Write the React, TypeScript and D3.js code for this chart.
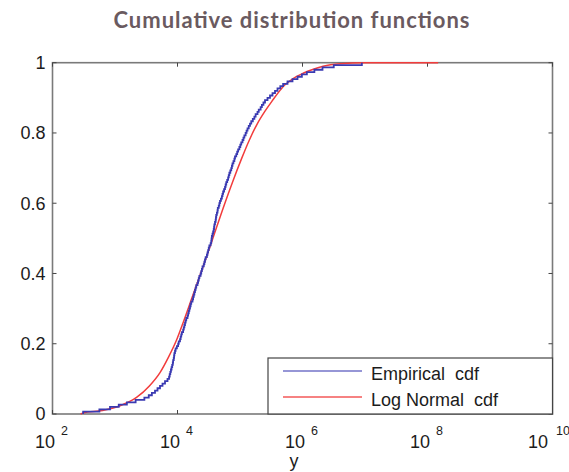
import React from "react";
import * as d3 from "d3";

// Empirical sample values (log10 of y), sorted, read from the blue staircase
const empiricalLog10: number[] = [
  2.49, 2.75, 2.92, 3.06, 3.19, 3.33, 3.47, 3.54, 3.59, 3.64,
  3.68, 3.72, 3.76, 3.8, 3.84, 3.865, 3.875, 3.885, 3.895, 3.905,
  3.915, 3.925, 3.93, 3.94, 3.945, 3.95, 3.96, 3.97, 3.99, 4.01,
  4.02, 4.04, 4.05, 4.06, 4.07, 4.09, 4.1, 4.11, 4.12, 4.13,
  4.14, 4.16, 4.17, 4.18, 4.19, 4.2, 4.21, 4.22, 4.24, 4.25,
  4.26, 4.27, 4.28, 4.29, 4.3, 4.32, 4.33, 4.34, 4.35, 4.37,
  4.38, 4.39, 4.4, 4.42, 4.43, 4.44, 4.45, 4.47, 4.48, 4.49,
  4.5, 4.51, 4.53, 4.54, 4.545, 4.55, 4.56, 4.57, 4.58, 4.585,
  4.59, 4.6, 4.61, 4.615, 4.62, 4.63, 4.64, 4.645, 4.66, 4.67,
  4.68, 4.695, 4.71, 4.72, 4.73, 4.745, 4.76, 4.77, 4.78, 4.795,
  4.81, 4.82, 4.83, 4.845, 4.86, 4.87, 4.88, 4.895, 4.91, 4.92,
  4.94, 4.955, 4.97, 4.99, 5.005, 5.02, 5.04, 5.055, 5.07, 5.09,
  5.105, 5.12, 5.14, 5.16, 5.18, 5.205, 5.23, 5.25, 5.28, 5.3,
  5.33, 5.35, 5.375, 5.4, 5.44, 5.48, 5.52, 5.56, 5.6, 5.645,
  5.69, 5.76, 5.84, 5.92, 5.99, 6.07, 6.19, 6.32, 6.5, 6.95,
];

// Fitted log-normal cdf: log10(y) and F(y)
const lognormLog10: number[] = [2.45, 2.49, 2.8, 3.1, 3.35, 3.55, 3.72, 3.85, 3.99, 4.1, 4.23, 4.4, 4.55, 4.73, 4.88, 5.03, 5.15, 5.27, 5.4, 5.51, 5.72, 5.85, 6.01, 6.15, 6.33, 6.6, 7.0, 8.17];
const lognormCdf: number[] = [0.0, 0.003, 0.01, 0.025, 0.048, 0.08, 0.118, 0.16, 0.213, 0.265, 0.33, 0.415, 0.492, 0.586, 0.66, 0.729, 0.78, 0.824, 0.862, 0.89, 0.937, 0.955, 0.97, 0.98, 0.99, 0.997, 1.0, 1.0];

const xTickExps: number[] = [2, 4, 6, 8, 10];
const yTicks: number[] = [0, 0.2, 0.4, 0.6, 0.8, 1];
const yTickLabels: string[] = ["0", "0.2", "0.4", "0.6", "0.8", "1"];
const legendLabels: string[] = ["Empirical  cdf", "Log Normal  cdf"];
const seriesColors: string[] = ["#3a3ab2", "#f23c3c"];

const W = 569;
const H = 472;
const left = 52.5;
const right = 552.5;
const top = 62.7;
const bottom = 414;

export default function App() {
  const x = d3.scaleLog().domain([1e2, 1e10]).range([left, right]);
  const y = d3.scaleLinear().domain([0, 1]).range([bottom, top]);
  const N = empiricalLog10.length;

  const empPts: [number, number][] = [[empiricalLog10[0], 0]];
  empiricalLog10.forEach((v, i) => empPts.push([v, (i + 1) / N]));
  const stair = d3
    .line<[number, number]>()
    .x((d) => x(Math.pow(10, d[0])))
    .y((d) => y(d[1]))
    .curve(d3.curveStepAfter);

  const redPts: [number, number][] = lognormLog10.map((v, i) => [v, lognormCdf[i]]);
  const smooth = d3
    .line<[number, number]>()
    .x((d) => x(Math.pow(10, d[0])))
    .y((d) => y(d[1]))
    .curve(d3.curveMonotoneX);

  const axisColor = "#7a7a7a";
  const textColor = "#1c1c1c";
  const font = "'Liberation Sans', Arial, sans-serif";

  const legX0 = 268;
  const legY0 = 358;

  return (
    <svg
      width={W}
      height={H}
      style={{ position: "absolute", left: 0, top: 0, background: "#fff" }}
      xmlns="http://www.w3.org/2000/svg"
    >
      <rect x={0} y={0} width={W} height={H} fill="#fff" />
      <text
        x={291.5}
        y={28}
        textAnchor="middle"
        fontFamily="Lato, 'Open Sans', sans-serif"
        fontWeight="bold"
        fontSize={22}
        textLength={356}
        lengthAdjust="spacing"
        fill="#6a5a60"
      >
        Cumulative distribution functions
      </text>

      {/* frame */}
      <rect
        x={left}
        y={top}
        width={right - left}
        height={bottom - top}
        fill="none"
        stroke={axisColor}
        strokeWidth={1.6}
      />
      {/* x ticks */}
      {xTickExps.map((e) => {
        const px = x(Math.pow(10, e));
        const shift = e >= 10 ? -7 : 0;
        return (
          <g key={"xt" + e}>
            <line x1={px} x2={px} y1={bottom} y2={bottom - 4} stroke="#444" strokeWidth={1} />
            <line x1={px} x2={px} y1={top} y2={top + 4} stroke="#444" strokeWidth={1} />
            <text
              x={px + 2.5 + shift}
              y={448}
              textAnchor="end"
              fontFamily={font}
              fontSize={18}
              fill={textColor}
            >
              10
            </text>
            <text
              x={px + 8.5 + shift + (e >= 10 ? 2 : 0)}
              y={435}
              textAnchor="start"
              fontFamily={font}
              fontSize={12.5}
              fill={textColor}
            >
              {String(e)}
            </text>
          </g>
        );
      })}
      {/* y ticks */}
      {yTicks.map((t, i) => {
        const py = y(t);
        return (
          <g key={"yt" + i}>
            <line x1={left} x2={left + 4} y1={py} y2={py} stroke="#444" strokeWidth={1} />
            <line x1={right} x2={right - 4} y1={py} y2={py} stroke="#444" strokeWidth={1} />
            <text
              x={45.5}
              y={py}
              dy="0.36em"
              textAnchor="end"
              fontFamily={font}
              fontSize={18}
              fill={textColor}
            >
              {yTickLabels[i]}
            </text>
          </g>
        );
      })}
      <text x={294} y={467} textAnchor="middle" fontFamily={font} fontSize={18} fill={textColor}>
        y
      </text>

      {/* curves */}
      <path d={smooth(redPts) || ""} fill="none" stroke={seriesColors[1]} strokeWidth={1.5} />
      <path d={stair(empPts) || ""} fill="none" stroke={seriesColors[0]} strokeWidth={1.8} />

      {/* legend */}
      <rect
        x={legX0}
        y={legY0}
        width={right - legX0}
        height={bottom - legY0}
        fill="#fff"
        stroke="#444"
        strokeWidth={1.2}
      />
      {legendLabels.map((lab, i) => {
        const ly = 371 + i * 26;
        return (
          <g key={lab}>
            <line x1={283} x2={362} y1={ly} y2={ly} stroke={seriesColors[i]} strokeWidth={1.6} opacity={i === 0 ? 0.7 : 0.85} />
            <text
              x={371}
              y={ly + 9}
              fontFamily={font}
              fontSize={18}
              fill={textColor}
              style={{ whiteSpace: "pre" }}
            >
              {lab}
            </text>
          </g>
        );
      })}
    </svg>
  );
}
